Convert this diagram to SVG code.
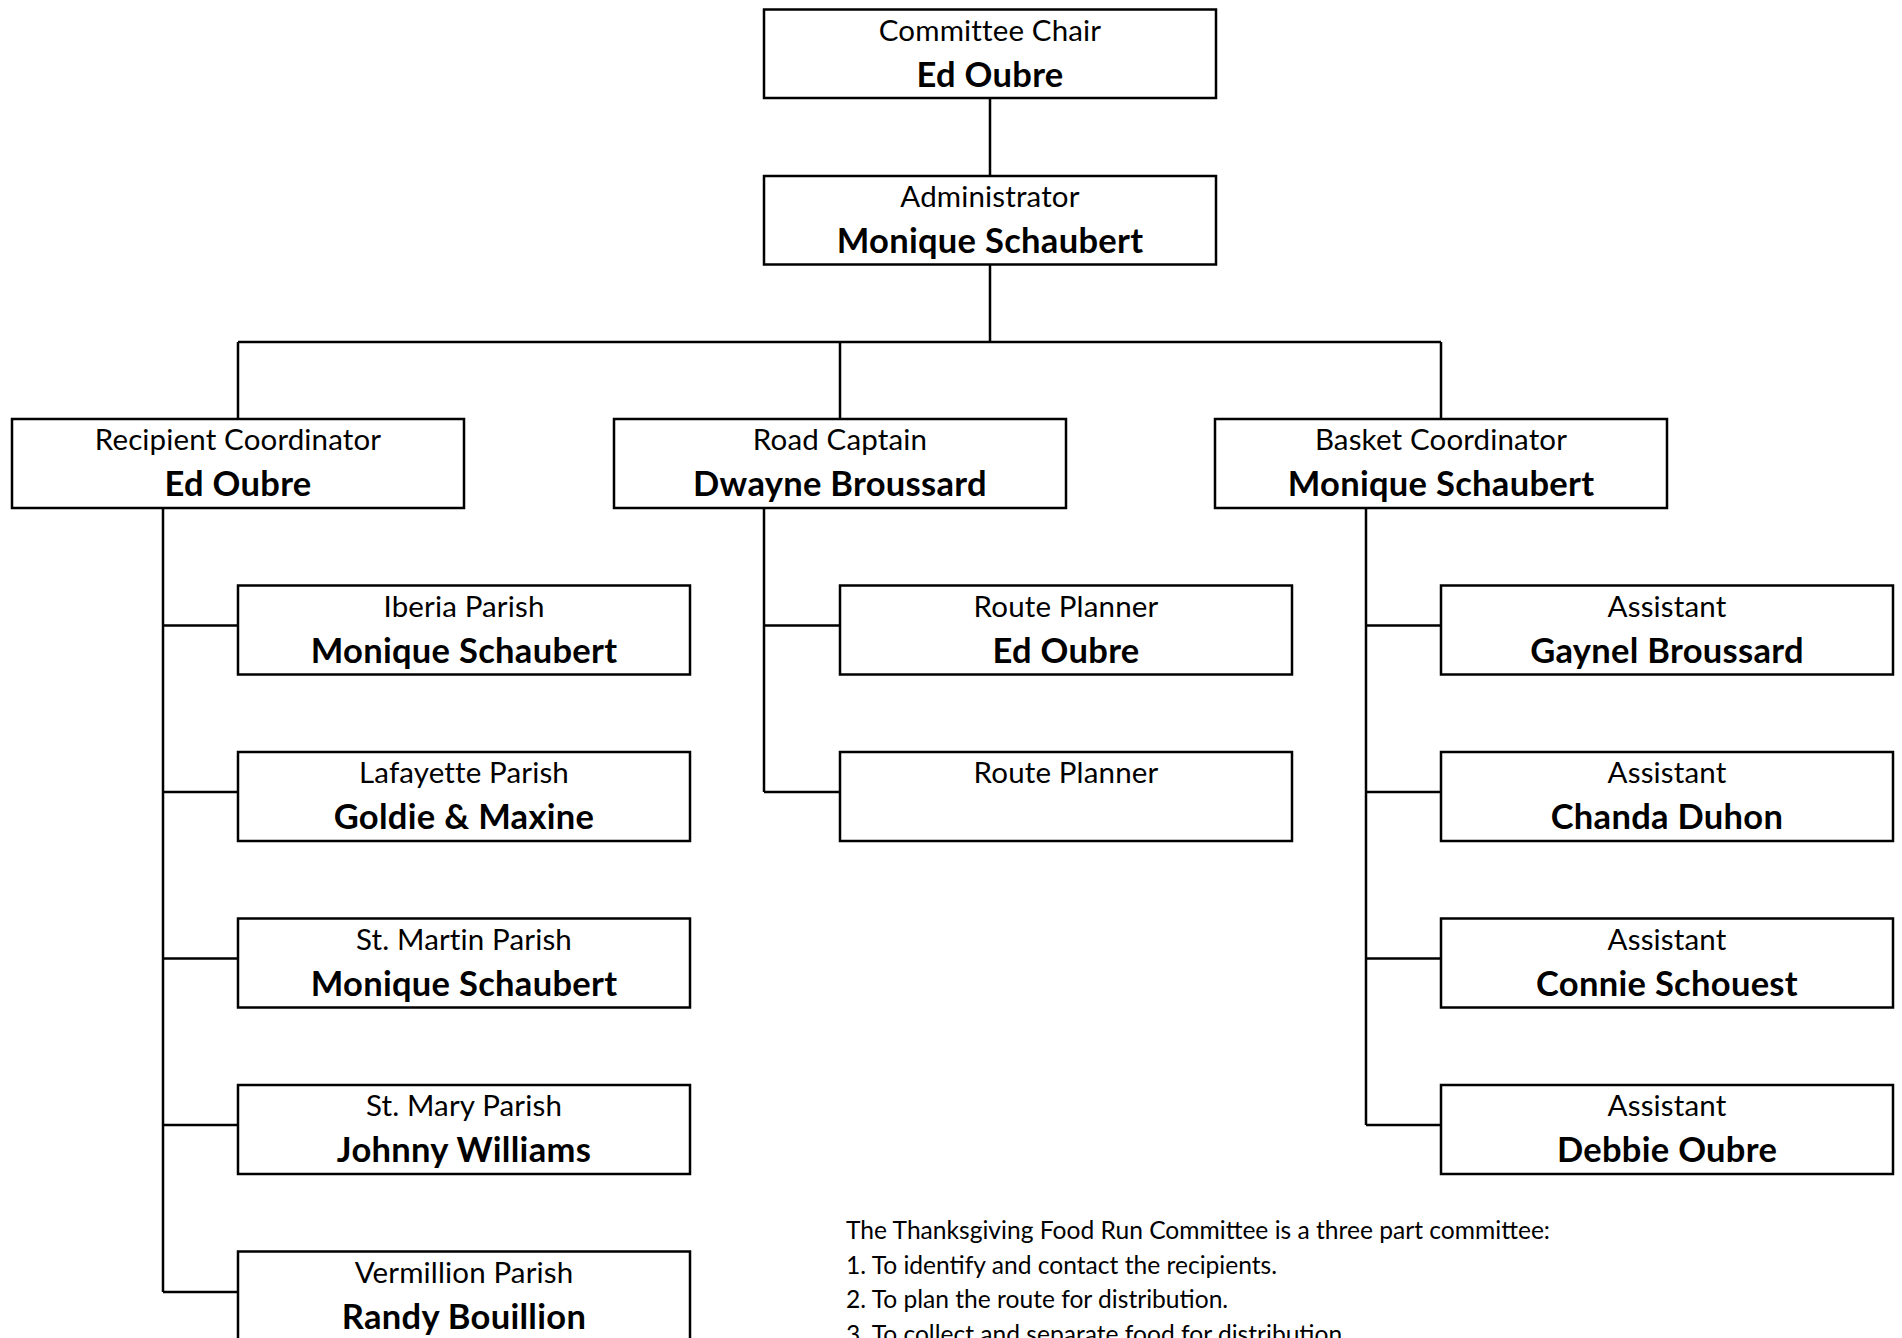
<svg xmlns="http://www.w3.org/2000/svg" width="1902" height="1338" viewBox="0 0 1902 1338">
<style>
.box{fill:#fff;stroke:#000;stroke-width:2.5}
.ln{fill:none;stroke:#000;stroke-width:2.5}
.t{font-family:Lato,"Open Sans","Liberation Sans",sans-serif;font-size:29.5px;letter-spacing:0.15px;fill:#000;text-anchor:middle}
.b{font-family:Lato,"Open Sans","Liberation Sans",sans-serif;font-size:34.5px;letter-spacing:0.3px;font-weight:bold;fill:#000;text-anchor:middle}
.n{font-family:Lato,"Open Sans","Liberation Sans",sans-serif;font-size:24.6px;fill:#000}
</style>
<rect width="1902" height="1338" fill="#fff"/>
<g id="connectors">
<path class="ln" d="M990 98V176M990 265V342M238 342H1441M238 342V419M840 342V419M1441 342V419"/>
<path class="ln" d="M163 508V1292M163 625.5H238M163 792H238M163 958.5H238M163 1125H238M163 1292H238"/>
<path class="ln" d="M764 508V792M764 625.5H840M764 792H840"/>
<path class="ln" d="M1366 508V1125M1366 625.5H1441M1366 792H1441M1366 958.5H1441M1366 1125H1441"/>
</g>
<g id="chair"><rect class="box" x="764" y="9.5" width="452" height="88.5"/><text class="t" x="990" y="40.5">Committee Chair</text><text class="b" x="990" y="86.5">Ed Oubre</text></g>
<g id="admin"><rect class="box" x="764" y="176" width="452" height="88.5"/><text class="t" x="990" y="207">Administrator</text><text class="b" x="990" y="253">Monique Schaubert</text></g>
<g id="recipient"><rect class="box" x="12" y="419" width="452" height="89"/><text class="t" x="238" y="450">Recipient Coordinator</text><text class="b" x="238" y="496">Ed Oubre</text></g>
<g id="road"><rect class="box" x="614" y="419" width="452" height="89"/><text class="t" x="840" y="450">Road Captain</text><text class="b" x="840" y="496">Dwayne Broussard</text></g>
<g id="basket"><rect class="box" x="1215" y="419" width="452" height="89"/><text class="t" x="1441" y="450">Basket Coordinator</text><text class="b" x="1441" y="496">Monique Schaubert</text></g>
<g id="iberia"><rect class="box" x="238" y="585.5" width="452" height="89"/><text class="t" x="464" y="616.5">Iberia Parish</text><text class="b" x="464" y="662.5">Monique Schaubert</text></g>
<g id="lafayette"><rect class="box" x="238" y="752" width="452" height="89"/><text class="t" x="464" y="783">Lafayette Parish</text><text class="b" x="464" y="829">Goldie &amp; Maxine</text></g>
<g id="stmartin"><rect class="box" x="238" y="918.5" width="452" height="89"/><text class="t" x="464" y="949.5">St. Martin Parish</text><text class="b" x="464" y="995.5">Monique Schaubert</text></g>
<g id="stmary"><rect class="box" x="238" y="1085" width="452" height="89"/><text class="t" x="464" y="1116">St. Mary Parish</text><text class="b" x="464" y="1162">Johnny Williams</text></g>
<g id="vermillion"><rect class="box" x="238" y="1251.5" width="452" height="89"/><text class="t" x="464" y="1282.5">Vermillion Parish</text><text class="b" x="464" y="1328.5">Randy Bouillion</text></g>
<g id="route1"><rect class="box" x="840" y="585.5" width="452" height="89"/><text class="t" x="1066" y="616.5">Route Planner</text><text class="b" x="1066" y="662.5">Ed Oubre</text></g>
<g id="route2"><rect class="box" x="840" y="752" width="452" height="89"/><text class="t" x="1066" y="783">Route Planner</text></g>
<g id="asst1"><rect class="box" x="1441" y="585.5" width="452" height="89"/><text class="t" x="1667" y="616.5">Assistant</text><text class="b" x="1667" y="662.5">Gaynel Broussard</text></g>
<g id="asst2"><rect class="box" x="1441" y="752" width="452" height="89"/><text class="t" x="1667" y="783">Assistant</text><text class="b" x="1667" y="829">Chanda Duhon</text></g>
<g id="asst3"><rect class="box" x="1441" y="918.5" width="452" height="89"/><text class="t" x="1667" y="949.5">Assistant</text><text class="b" x="1667" y="995.5">Connie Schouest</text></g>
<g id="asst4"><rect class="box" x="1441" y="1085" width="452" height="89"/><text class="t" x="1667" y="1116">Assistant</text><text class="b" x="1667" y="1162">Debbie Oubre</text></g>
<g id="note">
<text class="n" x="846" y="1239">The Thanksgiving Food Run Committee is a three part committee:</text>
<text class="n" x="846" y="1273.5">1. To identify and contact the recipients.</text>
<text class="n" x="846" y="1308">2. To plan the route for distribution.</text>
<text class="n" x="846" y="1342.5">3. To collect and separate food for distribution.</text>
</g>
</svg>
